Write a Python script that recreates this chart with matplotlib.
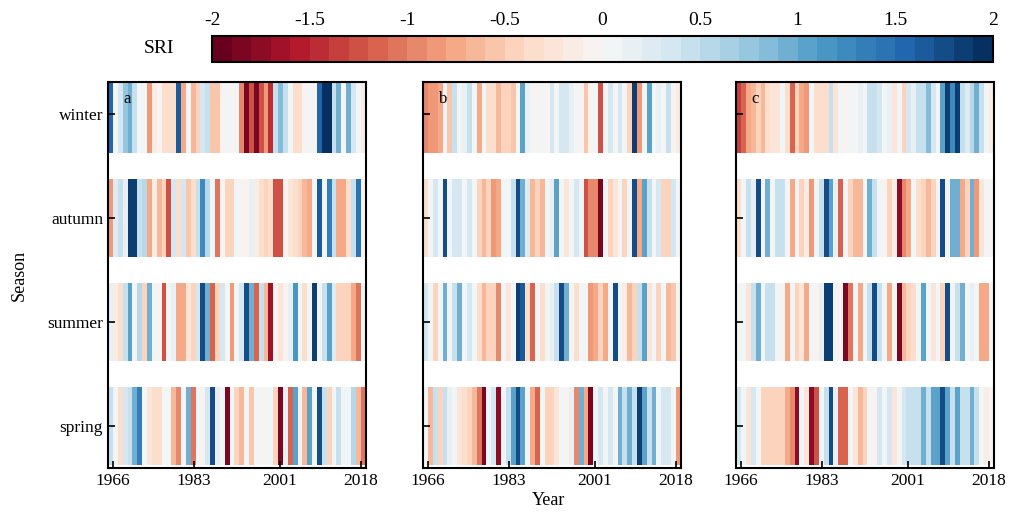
import numpy as np
import matplotlib
matplotlib.use("Agg")
import matplotlib.pyplot as plt
from matplotlib.colors import BoundaryNorm

plt.rcParams['font.family'] = ['Liberation Serif', 'DejaVu Serif']
plt.rcParams['font.size'] = 12

years = np.arange(1966, 2019)
seasons = ['spring', 'summer', 'autumn', 'winter']
panels = ['a', 'b', 'c']

# SRI values, one list per panel and season (1966-2018)
a_winter = [1.6, 0.1, 0.4, 0.8, 1.0, 0.5, 0.05, 0.1, -0.8, -0.1, 0.0, -0.3, -0.3, -0.3, 1.7,
            -0.7, 0.05, -0.6, -0.4, 0.4, 0.5, -0.5, -0.5, 0.0, 0.05, 0.0, 0.05, -0.9, -1.9, -1.2,
            -1.8, -1.2, -0.8, -1.4, 0.5, 0.9, 0.5, 0.05, -0.3, -0.3, 0.0, 0.05, 0.0, 1.6, 2.0,
            2.0, 0.5, 1.0, 0.05, 1.0, 0.4, 0.1, -0.1]
a_autumn = [-0.8, 0.3, 0.5, 0.2, 1.9, 1.9, 0.5, 0.6, -0.7, -0.1, -0.6, -0.4, -1.2, 0.4, -0.3,
            0.4, -0.5, -0.3, 0.5, 1.3, 0.6, 0.05, -1.0, 0.0, -0.4, -0.4, 0.05, 0.0, -0.05, 0.2,
            -0.1, -0.3, -0.4, -0.3, -1.2, -1.2, 0.0, -0.2, -0.3, -0.4, -0.6, -0.7, 0.05, 1.7, 0.1,
            1.4, 0.5, -0.7, -0.7, -0.3, 0.5, 1.5, 0.0]
a_summer = [0.2, -0.1, -0.3, 0.5, 1.1, 0.1, 0.6, -0.4, 1.0, 0.1, 0.0, -1.2, 0.05, 0.2, -0.7,
            -0.7, -0.2, -0.4, 0.4, 1.8, 1.0, -1.1, -0.4, 0.4, 0.05, -0.8, 0.05, 0.4, 1.8, 1.0,
            -1.1, 0.5, -0.6, -1.6, 0.0, -0.2, 0.0, 0.2, 1.2, 0.05, -0.3, 0.05, 1.9, 0.1, 0.5,
            1.1, 0.3, -0.4, -0.4, -0.4, -0.7, -1.0, 0.1]
a_spring = [0.5, 0.05, -0.3, 0.4, 0.5, 1.0, 1.4, 0.05, -0.2, -0.3, -0.3, 0.05, 0.1, -0.6, -0.9,
            0.05, 1.0, -1.0, 0.05, 0.0, 0.4, 1.8, 0.2, 0.05, -1.8, 0.05, -0.4, -0.6, 0.05, -0.5,
            0.05, 0.0, 0.05, 0.1, -0.4, -1.8, 0.2, -1.1, 1.1, 0.05, -0.6, 1.1, 0.05, 1.8, 0.5,
            -0.4, 0.1, 0.5, 0.1, 0.05, 0.6, -0.6, -1.0]

b_winter = [-0.9, -0.8, -0.8, -0.7, 0.05, -0.5, 0.5, 0.05, 0.2, 0.5, 0.05, -0.7, 0.05, -0.3, -0.3,
            -0.6, -0.4, -0.4, -0.5, 0.05, 1.1, 0.2, 0.05, 0.0, 0.05, 0.0, 0.4, 0.05, 0.4, 0.4,
            0.2, 0.05, 0.0, -0.5, 0.0, 0.05, -1.2, 0.05, 0.4, 0.05, 0.4, 0.05, -0.4, 1.9, -0.8,
            0.05, 1.1, 0.05, 0.2, 0.05, 0.5, 0.0, -0.1]
b_autumn = [-0.3, 0.05, 0.4, 0.05, 1.8, 0.05, 0.4, 0.4, 0.1, 0.4, 0.05, -0.4, -0.6, -0.4, -0.8,
            -0.7, 0.05, 0.1, 0.5, 1.8, 1.0, 0.3, -0.6, -0.4, -0.6, 0.05, 0.2, 1.1, 0.05, -0.2,
            0.05, 0.4, 0.05, -1.2, -0.9, -0.9, -1.8, 0.05, -0.4, -0.2, 0.05, -0.4, 0.05, 1.8, -0.7,
            1.1, 0.5, 0.05, 0.4, -0.4, -0.4, 0.4, 0.05]
b_summer = [0.4, 0.05, -0.4, 0.05, 1.0, 0.05, 0.5, 1.0, 0.05, 0.4, 0.05, -0.3, -0.6, -0.4, -0.4,
            -0.9, 0.05, -0.2, 0.05, 1.9, 1.7, -0.3, -1.1, 0.05, -0.3, 0.05, 0.2, 0.5, 1.8, 1.0,
            0.05, -0.3, 0.1, 0.05, -0.8, -0.7, -0.4, -0.7, 0.05, 1.8, 0.05, -0.1, -0.6, -0.4, 0.5,
            1.1, -0.2, 0.1, -0.4, 0.05, -0.6, -0.5, 0.05]
b_spring = [0.05, -0.6, 0.5, -0.4, 0.5, 0.2, 0.05, -0.2, -0.3, -0.4, -0.6, -1.0, -1.8, 0.05, 0.4,
            -1.7, 0.05, 0.5, 1.1, 1.8, 1.1, 0.05, -0.7, -1.1, 0.05, -0.4, -0.4, -0.2, 0.05, 0.0,
            0.2, -0.9, 1.0, -0.7, -1.8, 0.05, 0.4, 0.05, 0.4, 0.05, 1.0, 0.5, 1.0, 0.5, 1.9,
            1.1, 0.5, 1.0, 0.05, 0.4, 0.4, 0.05, -0.8]

c_winter = [-1.3, -1.1, -0.7, -0.6, -0.4, -0.6, -0.3, -0.2, -0.2, 0.05, -0.3, -1.1, -0.4, -0.7, -0.8,
            0.05, -0.3, -0.3, -0.3, 0.5, -0.2, 0.05, 0.0, 0.05, 0.1, 0.2, 0.05, 0.5, 0.5, 0.4,
            0.05, 0.2, -0.2, 0.05, -0.4, 0.4, 0.2, 0.5, 0.5, 0.9, 0.4, 0.05, 1.1, 1.9, 1.3,
            1.9, 0.5, 0.3, 0.6, 1.0, 0.5, 0.05, -0.1]
c_autumn = [-0.3, 0.05, 0.5, 0.2, 1.8, 0.05, 1.0, 0.05, 0.5, 0.5, 0.05, -0.7, 0.05, -0.4, -0.1,
            -0.8, 0.05, 0.5, 1.8, 1.1, 0.2, -1.1, 0.05, -0.4, -0.6, -0.6, 0.05, 1.0, 0.5, 0.05,
            0.0, -0.4, -0.1, -1.7, -0.9, -0.7, 0.05, -0.3, -0.4, -0.6, -0.4, 0.05, 1.8, 0.1, 1.0,
            1.0, -0.7, -0.4, 1.0, -0.8, -0.2, 0.05, 0.0]
c_summer = [0.05, 0.05, -0.2, 0.5, 1.0, 0.05, 0.5, 0.5, 0.05, 0.0, -0.7, 0.05, -0.4, -0.2, -0.7,
            0.05, 0.0, 0.2, 1.9, 1.9, 0.05, 0.0, -1.8, -1.0, 0.05, -0.7, 0.05, 0.5, 1.8, 0.5,
            0.05, -0.7, 0.05, -1.8, -0.6, -0.4, -0.3, 0.05, 1.1, 0.05, -0.2, 0.05, -0.4, 1.8, 0.05,
            0.5, 1.0, 0.05, 0.2, 0.05, -0.7, -0.7, 0.05]
c_spring = [0.4, 0.05, -0.2, 0.4, 0.05, -0.4, -0.4, -0.4, -0.4, -0.4, -0.7, -0.9, -1.7, 0.05, -0.2,
            -1.7, -1.2, 0.05, 0.5, 1.8, 0.2, -1.1, -1.1, 0.05, -0.2, -0.6, -0.4, 0.05, 0.0, 0.4,
            0.1, 0.4, -0.2, 0.05, 0.4, 0.5, 0.5, 0.5, 1.0, 0.5, 1.1, 1.1, 1.8, 1.1, 0.5,
            1.1, 0.5, 0.5, 1.0, 0.5, 0.05, -0.1, 0.0]

data = {
    'a': [a_spring, a_summer, a_autumn, a_winter],
    'b': [b_spring, b_summer, b_autumn, b_winter],
    'c': [c_spring, c_summer, c_autumn, c_winter],
}

levels = np.arange(-2, 2.001, 0.1)
cmap = plt.get_cmap('RdBu', len(levels) - 1)
norm = BoundaryNorm(levels, cmap.N)

fig = plt.figure(figsize=(10.1, 5.12), dpi=100)
lefts = [0.107, 0.419, 0.729]
x_edges = np.linspace(1965, 2019, len(years) + 1)
h = 0.75

for k, p in enumerate(panels):
    ax = fig.add_axes([lefts[k], 0.086, 0.255, 0.754])
    for j, vals in enumerate(data[p]):
        mesh = ax.pcolormesh(x_edges, [j - h / 2, j + h / 2], np.array(vals)[None, :],
                             cmap=cmap, norm=norm)
    ax.set_xlim(1965, 2019)
    ax.set_ylim(-0.4, 3.31)
    ax.set_xticks([1966, 1983, 2001, 2018])
    ax.set_yticks(range(4))
    if k == 0:
        ax.set_yticklabels(seasons)
        ax.set_ylabel('Season', fontsize=13, labelpad=14)
    else:
        ax.set_yticklabels([])
    ax.tick_params(direction='in', length=5, width=1.2, labelsize=12.5)
    for s in ax.spines.values():
        s.set_linewidth(1.5)
    ax.text(0.06, 0.955, p, transform=ax.transAxes, fontsize=12, va='center')

fig.text(0.543, 0.022, 'Year', ha='center', va='center', fontsize=13)

cax = fig.add_axes([0.21, 0.879, 0.773, 0.051])
cb = fig.colorbar(mesh, cax=cax, orientation='horizontal', ticks=np.arange(-2, 2.01, 0.5))
cb.ax.set_xticklabels(['-2', '-1.5', '-1', '-0.5', '0', '0.5', '1', '1.5', '2'])
cax.minorticks_off()
cax.xaxis.set_ticks_position('top')
cax.tick_params(direction='in', length=0, labelsize=14, pad=5)
cb.outline.set_linewidth(1.5)
fig.text(0.157, 0.905, 'SRI', ha='center', va='center', fontsize=14)

fig.savefig('out.png', dpi=100)
